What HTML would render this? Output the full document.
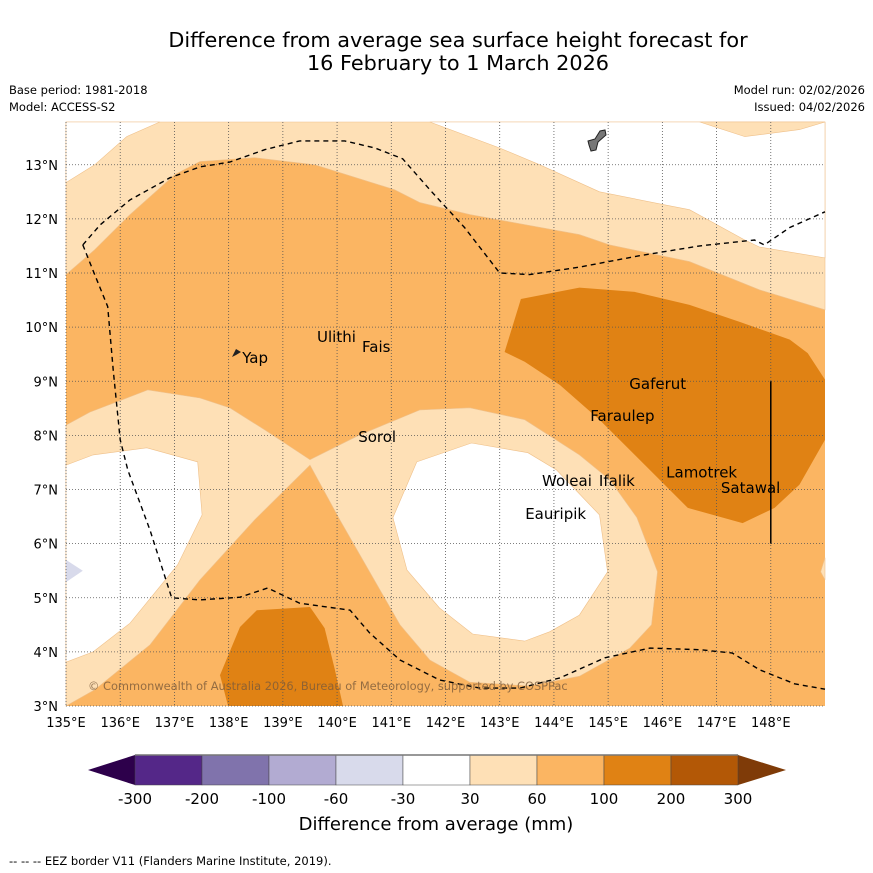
<!DOCTYPE html>
<html><head><meta charset="utf-8"><style>
body{margin:0;background:#fff;width:873px;height:873px;overflow:hidden;font-family:"DejaVu Sans","Liberation Sans",sans-serif}
svg{display:block}
</style></head><body>
<svg id="c" width="873" height="873" xmlns="http://www.w3.org/2000/svg">
<text x="458" y="47" font-size="20.8" text-anchor="middle">Difference from average sea surface height forecast for</text>
<text x="458" y="70" font-size="20.8" text-anchor="middle">16 February to 1 March 2026</text>
<text x="9" y="94" font-size="11.5">Base period: 1981-2018</text>
<text x="9" y="111" font-size="11.5">Model: ACCESS-S2</text>
<text x="865" y="94" font-size="11.5" text-anchor="end">Model run: 02/02/2026</text>
<text x="865" y="111" font-size="11.5" text-anchor="end">Issued: 04/02/2026</text>
<g id="map"></g>
<g id="cb"></g>
<text x="436" y="830" font-size="18" text-anchor="middle">Difference from average (mm)</text>
<text x="9" y="865" font-size="11.5">--  --  -- EEZ border V11 (Flanders Marine Institute, 2019).</text>
</svg>
<script>
const lonMin=135, lonMax=149, latMin=3, latMax=13.79;
const lonTicks=[135,136,137,138,139,140,141,142,143,144,145,146,147,148];
const latTicks=[3,4,5,6,7,8,9,10,11,12,13];
const levels=[-300,-200,-100,-60,-30,30,60,100,200,300];
const levelColors=['#542788','#8073ac','#b2abd2','#d8daeb','#ffffff','#fee0b6','#fbb562','#e08214','#b35806'];
const lightTop=[[135,13.79],[135,10.97],[135.53,11.43],[136.18,12.08],[137.01,12.82],[137.47,13.06],[138.48,13.13],[139.59,13.0],[141.06,12.54],[141.53,12.30],[142.45,12.08],[144.47,11.71],[145.03,11.52],[146.5,11.21],[147.79,10.69],[149,10.32],[149,13.79]];
const whiteTopLeft=[[135,13.79],[135,12.67],[135.53,13.0],[136.12,13.52],[136.73,13.79]];
const whiteTop=[[141.71,13.79],[143.0,13.31],[143.74,13.0],[144.84,12.5],[146.04,12.26],[146.5,12.17],[147.52,11.61],[147.79,11.48],[149,11.28],[149,13.79]];
const lightPatch=[[146.69,13.79],[147.52,13.52],[148.53,13.65],[149,13.79]];
const lightMid=[[135,8.19],[135.44,8.43],[136.51,8.84],[137.47,8.69],[138.02,8.51],[138.67,8.10],[139.5,7.55],[140.42,8.01],[141.53,8.47],[142.45,8.51],[143.46,8.29],[144.47,7.64],[145.03,7.18],[145.53,6.48],[145.91,5.48],[145.8,4.5],[145.4,4.07],[144.47,3.55],[143.55,3.37],[142.45,3.44],[141.71,3.85],[141.16,4.5],[140.6,5.48],[140.05,6.44],[139.5,7.45],[138.48,6.44],[137.47,5.33],[136.55,4.13],[135.53,3.3],[135,3]];
const whiteLeft=[[135,7.45],[135.5,7.64],[136.49,7.77],[137.43,7.51],[137.51,6.53],[137.06,5.61],[136.18,4.53],[135.5,4.0],[135,3.81]];
const purpleLeft=[[135,5.7],[135.31,5.5],[135,5.29]];
const whiteMid=[[141.47,7.51],[142.48,7.86],[143.52,7.68],[144.05,7.36],[144.84,6.53],[144.99,5.48],[144.47,4.68],[143.92,4.37],[143.46,4.2],[142.5,4.33],[141.89,4.81],[141.29,5.51],[141.03,6.48]];
const darkEast=[[143.39,10.52],[144.47,10.73],[145.49,10.65],[146.5,10.41],[147.42,10.1],[148.35,9.77],[148.68,9.52],[149,9.03],[149,7.92],[148.53,7.09],[148.07,6.66],[147.48,6.38],[146.47,6.66],[145.77,7.36],[144.84,8.29],[144.11,8.93],[143.46,9.36],[143.09,9.54]];
const darkSouth=[[138.21,4.46],[138.52,4.77],[139.5,4.83],[139.77,4.44],[139.96,3.67],[140.11,3],[137.99,3],[137.84,3.57]];
const lightSliver=[[149,5.74],[148.92,5.48],[149,5.33]];
const eezNorth=[[135.31,11.52],[135.63,11.89],[136.18,12.35],[136.92,12.76],[137.47,12.96],[138.02,13.05],[138.67,13.28],[139.31,13.44],[140.14,13.44],[140.7,13.31],[141.21,13.11],[141.71,12.54],[142.35,11.84],[143.0,11.0],[143.55,10.97],[144.47,11.11],[145.58,11.32],[146.69,11.5],[147.7,11.61],[147.88,11.52],[148.35,11.84],[149,12.13]];
const eezSouth=[[135.31,11.52],[135.53,10.97],[135.77,10.38],[135.87,9.21],[136.0,7.92],[136.14,7.36],[136.55,6.25],[136.95,5.0],[137.47,4.96],[138.21,5.01],[138.72,5.18],[139.31,4.9],[140.24,4.77],[140.6,4.35],[141.16,3.85],[141.89,3.48],[142.63,3.33],[143.37,3.33],[144.11,3.52],[144.94,3.89],[145.77,4.07],[146.69,4.04],[147.29,3.98],[147.79,3.67],[148.44,3.41],[149,3.31]];
const islandNames=['Ulithi','Yap','Fais','Gaferut','Faraulep','Sorol','Woleai','Ifalik','Lamotrek','Satawal','Eauripik'];
const islandLon=[139.63,138.25,140.46,145.39,144.67,140.39,143.78,144.83,146.07,147.08,143.47];
const islandLat=[9.82,9.43,9.63,8.95,8.36,7.97,7.16,7.16,7.31,7.03,6.55];
const ns='http://www.w3.org/2000/svg';
const X0=66,X1=825,Y0=706,Y1=122;
const sx=l=>X0+(l-lonMin)/(lonMax-lonMin)*(X1-X0);
const sy=l=>Y0-(l-latMin)/(latMax-latMin)*(Y0-Y1);
const mapG=document.getElementById('map'), cbG=document.getElementById('cb');
function mk(t,a,p){const e=document.createElementNS(ns,t);for(const k in a)e.setAttribute(k,a[k]);(p||mapG).appendChild(e);return e;}
const pts=a=>a.map(p=>sx(p[0]).toFixed(1)+','+sy(p[1]).toFixed(1)).join(' ');
const bgRect=mk('rect',{x:X0,y:Y1,width:X1-X0,height:Y0-Y1,fill:levelColors[6]});


const layers=[[lightTop,5,'contour-30-60-north'],[whiteTopLeft,4,'contour-neutral-northwest'],[whiteTop,4,'contour-neutral-north'],[lightPatch,5,'contour-30-60-patch'],[lightMid,5,'contour-30-60-central'],[whiteLeft,4,'contour-neutral-west'],[purpleLeft,3,'contour-negative-west'],[whiteMid,4,'contour-neutral-central'],[darkEast,7,'contour-100-200-east'],[darkSouth,7,'contour-100-200-south'],[lightSliver,5,'contour-30-60-sliver']];
layers.forEach(L=>{
 const e=mk('polygon',{points:pts(L[0]),fill:levelColors[L[1]],stroke:(L[1]==4||L[1]==5)?'#efc08a':'none','stroke-width':0.6});
 
 });
lonTicks.forEach(l=>{const e=mk('line',{x1:sx(l),x2:sx(l),y1:Y1,y2:Y0,stroke:'#555','stroke-width':0.8,'stroke-dasharray':'1,2'});
 
 
 const t=mk('text',{x:sx(l),y:727,'font-size':13,'text-anchor':'middle'});t.textContent=l+'°E';
 
 });
latTicks.forEach(l=>{const e=mk('line',{x1:X0,x2:X1,y1:sy(l),y2:sy(l),stroke:'#555','stroke-width':0.8,'stroke-dasharray':'1,2'});
 
 
 const t=mk('text',{x:58,y:sy(l)+5,'font-size':13,'text-anchor':'end'});t.textContent=l+'°N';
 
 });
[eezNorth,eezSouth].forEach((a,i)=>{const e=mk('polyline',{points:pts(a),fill:'none',stroke:'#000','stroke-width':1.4,'stroke-dasharray':'5,4'});
 
 });
const vLine=mk('line',{x1:sx(148),x2:sx(148),y1:sy(9),y2:sy(6),stroke:'#000','stroke-width':1.5});


const guamShape=mk('path',{d:'M588,141 L595,139 L600,131 L605,130 L606,135 L598,142 L596,150 L591,151 L589,145 Z',fill:'#777',stroke:'#222','stroke-width':1});


const yapShape=mk('path',{d:'M232,357 L236,349 L241,352 L236,355 Z',fill:'#222'});


islandNames.forEach((n,i)=>{const t=mk('text',{x:sx(islandLon[i]),y:sy(islandLat[i])+5,'font-size':15});t.textContent=n;
 
 });
const crText=mk('text',{x:88,y:690,'font-size':11.4,fill:'#7a5a3a','fill-opacity':0.8});crText.textContent='© Commonwealth of Australia 2026, Bureau of Meteorology, supported by COSPPac';


const cx0=135,cx1=738,cy=755,ch=30,bw=(cx1-cx0)/levelColors.length;
const lowTri=mk('polygon',{points:`88,770 ${cx0},${cy} ${cx0},${cy+ch}`,fill:'#2d004b'},cbG);


const highTri=mk('polygon',{points:`786,770 ${cx1},${cy} ${cx1},${cy+ch}`,fill:'#7f3b08'},cbG);


levelColors.forEach((c,i)=>{const r=mk('rect',{x:cx0+i*bw,y:cy,width:bw,height:ch,fill:c,stroke:'#444','stroke-width':0.5},cbG);
 
 });
const cbBorder=mk('line',{x1:cx0,x2:cx1,y1:cy,y2:cy,stroke:'#777','stroke-width':1.5},cbG);


levels.forEach((v,i)=>{const t=mk('text',{x:cx0+i*bw,y:804,'font-size':15,'text-anchor':'middle'},cbG);t.textContent=v;
 
 });
</script>
</body></html>
